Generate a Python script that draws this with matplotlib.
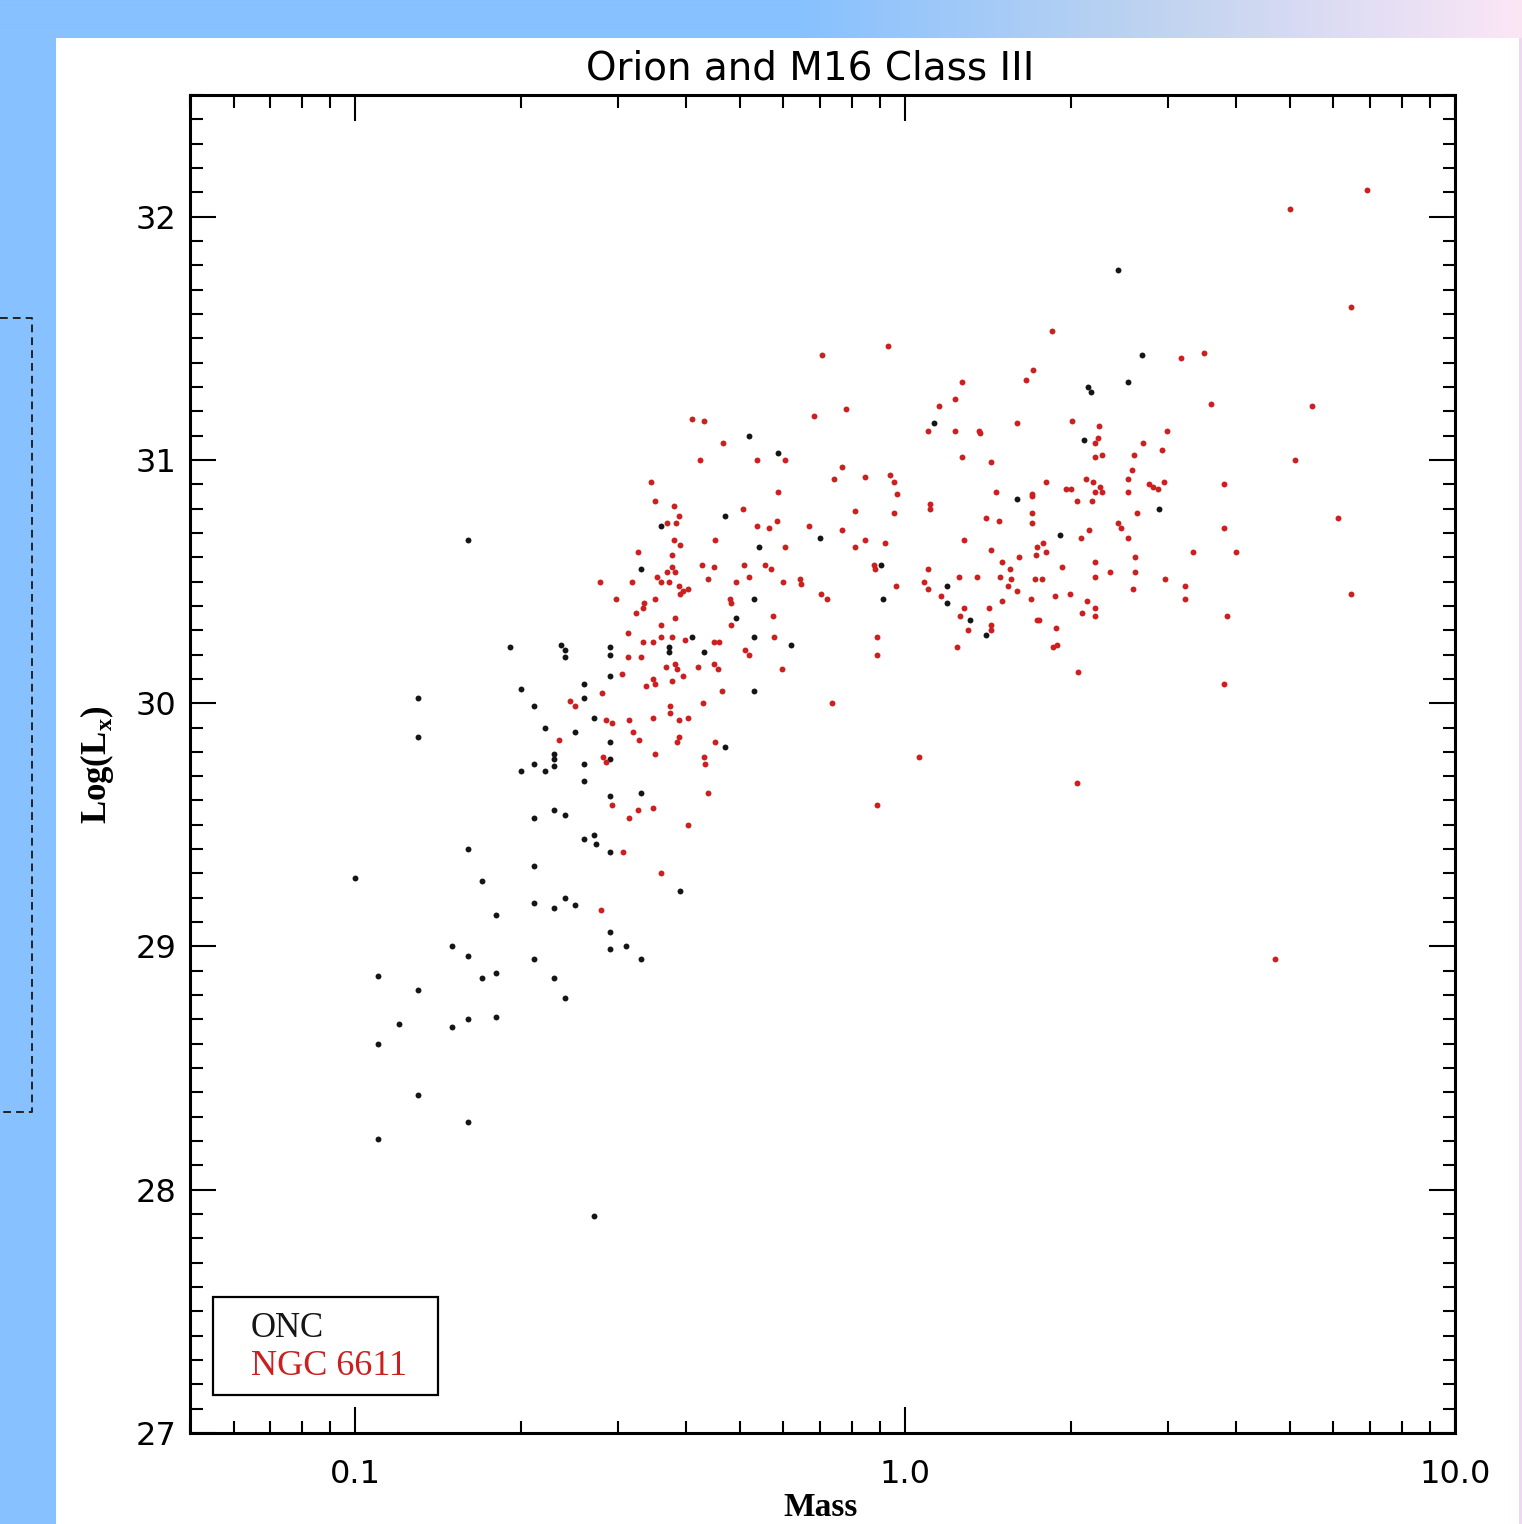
import numpy as np
import matplotlib
matplotlib.use("Agg")
import matplotlib.pyplot as plt
from matplotlib.patches import Rectangle
from matplotlib.ticker import MultipleLocator, LogLocator, NullFormatter, FixedLocator

# ---------------- data ----------------
title_text = "Orion and M16 Class III"
x_label = "Mass"
y_label = "Log(L$_{\\mathregular{x}}$)"
legend_labels = ["ONC", "NGC 6611"]
x_ticks = [0.1, 1.0, 10.0]
x_tick_labels = ["0.1", "1.0", "10.0"]
y_ticks = [27, 28, 29, 30, 31, 32]

onc_mass = [
    0.191, 0.236, 0.240, 0.240, 0.290, 0.290, 0.371, 0.371, 0.410, 0.290,
    0.260, 0.200, 0.130, 0.211, 0.260, 0.271, 0.221, 0.251, 0.130, 0.290,
    0.230, 0.230, 0.230, 0.211, 0.200, 0.221, 0.260, 0.260, 0.290, 0.290,
    0.331, 0.230, 0.240, 0.211, 0.260, 0.271, 0.274, 0.290, 0.160, 0.211,
    0.100, 0.170, 0.390, 0.211, 0.230, 0.240, 0.251, 0.180, 0.290, 0.150,
    0.160, 0.290, 0.310, 0.331, 0.211, 0.110, 0.130, 0.170, 0.180, 0.230,
    0.240, 0.120, 0.150, 0.160, 0.180, 0.110, 0.130, 0.160, 0.110, 0.271,
    0.160, 0.360, 0.330, 0.471, 0.520, 0.588, 0.543, 0.700, 0.530, 0.493,
    0.530, 0.621, 0.431, 0.530, 0.471, 0.904, 0.912, 1.13, 1.60, 1.91,
    1.19, 1.19, 1.31, 1.40, 2.11, 2.15, 2.18, 2.54, 2.70, 2.44,
    2.90,
]
onc_logLx = [
    30.23, 30.24, 30.22, 30.19, 30.23, 30.20, 30.23, 30.21, 30.27, 30.11,
    30.08, 30.06, 30.02, 29.99, 30.02, 29.94, 29.90, 29.88, 29.86, 29.84,
    29.79, 29.77, 29.74, 29.75, 29.72, 29.72, 29.75, 29.68, 29.77, 29.62,
    29.63, 29.56, 29.54, 29.53, 29.44, 29.46, 29.42, 29.39, 29.40, 29.33,
    29.28, 29.27, 29.23, 29.18, 29.16, 29.20, 29.17, 29.13, 29.06, 29.00,
    28.96, 28.99, 29.00, 28.95, 28.95, 28.88, 28.82, 28.87, 28.89, 28.87,
    28.79, 28.68, 28.67, 28.70, 28.71, 28.60, 28.39, 28.28, 28.21, 27.89,
    30.67, 30.73, 30.55, 30.77, 31.10, 31.03, 30.64, 30.68, 30.43, 30.35,
    30.27, 30.24, 30.21, 30.05, 29.82, 30.57, 30.43, 31.15, 30.84, 30.69,
    30.48, 30.41, 30.34, 30.28, 31.08, 31.30, 31.28, 31.32, 31.43, 31.78,
    30.80,
]

ngc_mass = [
    0.281, 0.246, 0.251, 0.235, 0.282, 0.285, 0.293, 0.315, 0.326, 0.348,
    0.402, 0.360, 0.280, 0.307,
    0.410, 0.430, 0.681, 0.781, 0.467, 0.605, 0.424, 0.538, 0.768, 0.743,
    0.846, 0.939, 0.955, 0.967, 0.955, 0.345, 0.588, 0.351, 0.379, 0.388,
    0.383, 0.369, 0.506, 0.538, 0.566, 0.585, 0.669, 0.768, 0.811, 0.811,
    0.846, 0.920, 0.379, 0.390, 0.450, 0.605, 0.326, 0.377, 0.376, 0.426,
    0.448, 0.510, 0.555, 0.571, 0.879, 0.882, 0.963,
    0.354, 0.359, 0.369, 0.382, 0.372, 0.387, 0.395, 0.402, 0.390,
    0.438, 0.493, 0.519, 0.600, 0.644, 0.647, 0.279, 0.318, 0.298, 0.351,
    0.335, 0.333, 0.479, 0.483, 0.703, 0.721, 0.324, 0.382, 0.360, 0.481,
    0.575, 0.313, 0.359, 0.377, 0.397, 0.333, 0.348, 0.448, 0.459, 0.578,
    0.889, 0.889, 0.512, 0.520, 0.313, 0.330, 0.367, 0.382, 0.385, 0.419,
    0.448, 0.457, 0.395, 0.305, 0.348, 0.351, 0.376, 0.597, 0.465, 0.337,
    0.428, 0.374, 0.374, 0.736, 0.285, 0.293, 0.314, 0.348, 0.388, 0.402,
    0.320, 0.328, 0.388, 0.385, 0.450, 0.351, 0.430, 0.433, 0.438, 1.06,
    0.889,
    1.85, 3.18, 1.71, 1.66, 1.27, 1.23, 1.15, 1.10, 1.23, 1.36,
    1.37, 1.60, 2.01, 2.25, 2.99, 2.21, 2.24, 2.71, 2.93, 1.27,
    1.43, 2.21, 2.28, 2.61, 2.59, 1.80, 2.13, 2.20, 2.21, 2.26,
    2.28, 2.54, 2.54, 2.77, 2.82, 2.88, 2.96, 1.96, 2.00, 1.46,
    1.70, 1.70, 1.11, 1.11, 2.05, 2.19, 2.64, 1.40, 1.48, 1.70,
    1.70, 2.44, 2.47, 2.54, 2.16, 2.09, 1.28, 1.43, 1.78, 1.74,
    1.80, 1.73, 1.50, 1.61, 1.93, 2.21, 2.62, 3.34, 2.36, 2.62,
    1.10, 1.55, 1.49, 1.56, 1.35, 1.25, 1.72, 1.77, 2.21, 1.08,
    1.10, 1.16, 2.97, 3.23, 3.23, 2.60, 1.54, 1.60, 1.69, 1.50,
    1.87, 1.99, 2.14, 2.21, 2.21, 2.10, 1.28, 1.26, 1.30, 1.42,
    1.43, 1.43, 1.74, 1.75, 1.88, 1.24, 1.86, 1.89, 2.06,
    6.92, 5.01, 6.47, 3.50, 3.60, 5.50, 5.12, 3.80, 6.13, 3.80,
    4.00, 3.85, 3.80, 6.47, 2.05, 0.706, 0.931, 4.71,
]
ngc_logLx = [
    30.04, 30.01, 29.99, 29.85, 29.78, 29.76, 29.58, 29.53, 29.56, 29.57,
    29.50, 29.30, 29.15, 29.39,
    31.17, 31.16, 31.18, 31.21, 31.07, 31.00, 31.00, 31.00, 30.97, 30.92,
    30.93, 30.94, 30.91, 30.86, 30.78, 30.91, 30.87, 30.83, 30.81, 30.77,
    30.74, 30.74, 30.80, 30.73, 30.72, 30.75, 30.73, 30.71, 30.79, 30.64,
    30.67, 30.66, 30.67, 30.65, 30.67, 30.64, 30.62, 30.61, 30.56, 30.57,
    30.56, 30.57, 30.57, 30.55, 30.57, 30.55, 30.48,
    30.52, 30.50, 30.54, 30.54, 30.50, 30.48, 30.46, 30.47, 30.45,
    30.51, 30.50, 30.52, 30.50, 30.51, 30.49, 30.50, 30.50, 30.43, 30.43,
    30.41, 30.39, 30.43, 30.41, 30.45, 30.43, 30.37, 30.35, 30.32, 30.32,
    30.36, 30.29, 30.27, 30.27, 30.26, 30.25, 30.25, 30.25, 30.25, 30.27,
    30.27, 30.20, 30.22, 30.20, 30.19, 30.19, 30.15, 30.16, 30.14, 30.15,
    30.16, 30.14, 30.11, 30.12, 30.10, 30.08, 30.09, 30.14, 30.05, 30.07,
    30.00, 29.99, 29.96, 30.00, 29.93, 29.92, 29.93, 29.94, 29.93, 29.94,
    29.88, 29.85, 29.86, 29.84, 29.84, 29.79, 29.78, 29.75, 29.63, 29.78,
    29.58,
    31.53, 31.42, 31.37, 31.33, 31.32, 31.25, 31.22, 31.12, 31.12, 31.12,
    31.11, 31.15, 31.16, 31.14, 31.12, 31.07, 31.09, 31.07, 31.04, 31.01,
    30.99, 31.01, 31.02, 31.02, 30.96, 30.91, 30.92, 30.91, 30.87, 30.89,
    30.87, 30.92, 30.87, 30.90, 30.89, 30.88, 30.91, 30.88, 30.88, 30.87,
    30.86, 30.85, 30.82, 30.80, 30.83, 30.83, 30.78, 30.76, 30.75, 30.78,
    30.74, 30.74, 30.72, 30.68, 30.71, 30.68, 30.67, 30.63, 30.66, 30.64,
    30.62, 30.61, 30.58, 30.60, 30.56, 30.58, 30.60, 30.62, 30.54, 30.54,
    30.55, 30.55, 30.52, 30.51, 30.52, 30.52, 30.51, 30.51, 30.52, 30.50,
    30.47, 30.44, 30.51, 30.48, 30.43, 30.47, 30.48, 30.46, 30.43, 30.42,
    30.44, 30.45, 30.42, 30.39, 30.36, 30.37, 30.39, 30.36, 30.30, 30.39,
    30.32, 30.30, 30.34, 30.34, 30.31, 30.23, 30.23, 30.24, 30.13,
    32.11, 32.03, 31.63, 31.44, 31.23, 31.22, 31.00, 30.90, 30.76, 30.72,
    30.62, 30.36, 30.08, 30.45, 29.67, 31.43, 31.47, 28.95,
]

# ---------------- styling ----------------
W, H = 1522, 1524
ONC_COLOR = "#151515"
NGC_COLOR = "#cc1f1f"
SERIF = ["Liberation Serif", "DejaVu Serif"]
SANS = ["DejaVu Sans"]

fig = plt.figure(figsize=(W / 100, H / 100), dpi=100)
fig.patch.set_facecolor("#87c1ff")

# background decoration (slide frame)
bg = fig.add_axes([0, 0, 1, 1], zorder=0)
xs = np.arange(W)
sx = [0, 800, 1150, W]
rr = np.interp(xs, sx, [135, 135, 190, 252])
gg = np.interp(xs, sx, [193, 193, 211, 230])
bb = np.interp(xs, sx, [255, 255, 240, 246])
grad = (np.stack([rr, gg, bb], axis=-1)[None, :, :] / 255.0)
bg.imshow(grad, extent=(0, W, 38, 0), aspect="auto", interpolation="bilinear")
bg.add_patch(Rectangle((56, 38), 1519 - 56, H - 38, facecolor="white", edgecolor="none"))
bg.add_patch(Rectangle((1519, 38), W - 1519, H - 38, facecolor="#ecd9ef", edgecolor="none"))
bg.plot([0, 32, 32, 0], [318, 318, 1112, 1112], color="#222222", lw=1.4,
        ls=(0, (4, 2.6)))
bg.set_xlim(0, W)
bg.set_ylim(H, 0)
bg.axis("off")

# main axes
L, R, T, B = 190, 1455, 95, 1433
ax = fig.add_axes([L / W, (H - B) / H, (R - L) / W, (B - T) / H], zorder=1)
ax.set_facecolor("white")

ax.scatter(onc_mass, onc_logLx, s=18, c=ONC_COLOR, linewidths=0, zorder=3)
ax.scatter(ngc_mass, ngc_logLx, s=18, c=NGC_COLOR, linewidths=0, zorder=3)

ax.set_xscale("log")
ax.set_xlim(0.05, 10.0)
ax.set_ylim(27, 32.5)

ax.xaxis.set_major_locator(FixedLocator(x_ticks))
ax.set_xticklabels(x_tick_labels)
ax.xaxis.set_minor_locator(LogLocator(base=10, subs=np.arange(2, 10)))
ax.xaxis.set_minor_formatter(NullFormatter())
ax.yaxis.set_major_locator(FixedLocator(y_ticks))
ax.set_yticklabels([str(v) for v in y_ticks])
ax.yaxis.set_minor_locator(MultipleLocator(0.1))

for sp in ax.spines.values():
    sp.set_linewidth(2.2)
    sp.set_color("black")

ax.tick_params(which="both", direction="in", top=True, right=True, width=1.5,
               color="black")
ax.tick_params(which="major", length=18.5)
ax.tick_params(which="minor", length=9)
ax.tick_params(axis="x", which="major", pad=19, labelsize=23)
ax.tick_params(axis="y", which="major", pad=10, labelsize=23)
for lab in ax.get_xticklabels() + ax.get_yticklabels():
    lab.set_fontfamily(SANS)

ax.set_title(title_text, x=(810 - L) / (R - L), y=(B - 79) / (B - T), pad=0,
             fontsize=28, fontfamily=SANS, va="baseline")

# x label sits at the very bottom edge, as in the reference
ax.set_xlabel(x_label, fontsize=24, fontfamily=SERIF, fontweight="bold", va="bottom")
ax.xaxis.set_label_coords((821 - L) / (R - L), (B - 1523) / (B - T))
ax.set_ylabel(y_label, fontsize=25, fontfamily=SERIF, fontweight="bold", va="center")
ax.yaxis.set_label_coords((97 - L) / (R - L), (B - 765) / (B - T))

# legend box (text-only, as in the original)
bx0, bx1, by0, by1 = 213, 438, 1297, 1395
ax.add_patch(Rectangle(((bx0 - L) / (R - L), (B - by1) / (B - T)),
                       (bx1 - bx0) / (R - L), (by1 - by0) / (B - T),
                       transform=ax.transAxes, facecolor="white", edgecolor="black",
                       lw=1.6, zorder=4))
ax.text((251 - L) / (R - L), (B - 1337) / (B - T), legend_labels[0],
        transform=ax.transAxes, fontsize=25, fontfamily=SERIF, color=ONC_COLOR,
        va="baseline", ha="left", zorder=5)
ax.text((251 - L) / (R - L), (B - 1375) / (B - T), legend_labels[1],
        transform=ax.transAxes, fontsize=26, fontfamily=SERIF, color=NGC_COLOR,
        va="baseline", ha="left", zorder=5)

fig.savefig("out.png", dpi=100, facecolor=fig.get_facecolor())
